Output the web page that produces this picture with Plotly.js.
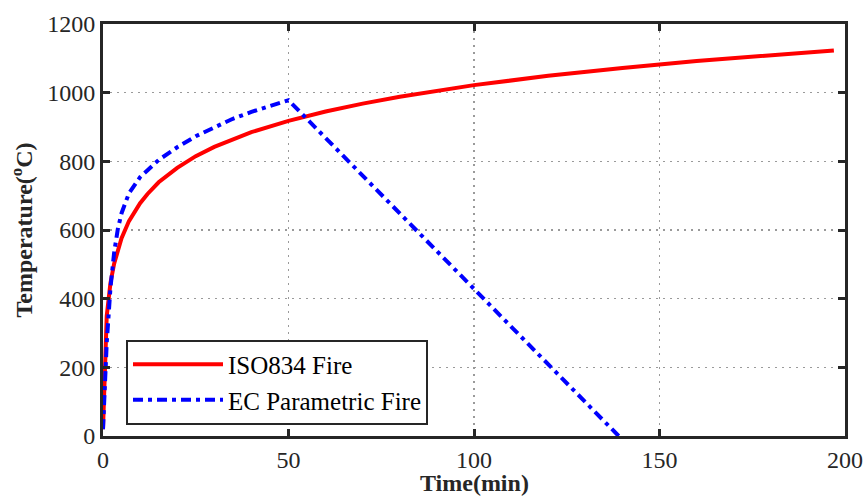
<!DOCTYPE html>
<html>
<head>
<meta charset="utf-8">
<script src="https://cdn.plot.ly/plotly-3.0.1.min.js"></script>
<style>
html,body{margin:0;padding:0;background:#fff;}
#chart{width:866px;height:504px;}
</style>
</head>
<body>
<div id="chart"></div>
<script>
// ISO834 standard fire curve
const isoTime = [0, 1, 2, 3, 5, 7, 10, 12, 15, 20, 25, 30, 40, 50, 60, 70, 80, 90, 100, 120, 140, 160, 180, 197];
const isoTemp = [20, 349, 445, 502, 576, 626, 678, 705, 739, 781, 815, 842, 885, 918, 945, 968, 988, 1006, 1022, 1049, 1072, 1092, 1110, 1123];

// EC parametric fire curve
const ecTime = [0, 1, 2, 3, 4, 5, 7, 10, 15, 20, 25, 30, 35, 40, 45, 50, 139];
const ecTemp = [20, 270, 430, 534, 603, 649, 707, 754, 804, 841, 873, 900, 924, 944, 962, 978, 0];

const seriesNames = ['ISO834 Fire', 'EC Parametric Fire'];
const xTicks = [0, 50, 100, 150, 200];
const yTicks = [0, 200, 400, 600, 800, 1000, 1200];
const xTitle = '<b>Time(min)</b>';
const yTitle = '<b>Temperature(<sup>o</sup>C)</b>';

const FONT = 'Liberation Serif';
const AX = '#262626';

const traces = [
  {x: isoTime, y: isoTemp, name: seriesNames[0], type: 'scatter', mode: 'lines',
   line: {color: '#ff0000', width: 4}},
  {x: ecTime, y: ecTemp, name: seriesNames[1], type: 'scatter', mode: 'lines',
   line: {color: '#0000ff', width: 4, dash: '10px,5px,4px,5px'}}
];

const axisCommon = {
  showline: true, linecolor: AX, linewidth: 3, mirror: 'ticks',
  ticks: 'inside', ticklen: 7, tickwidth: 3, tickcolor: AX,
  showgrid: true, gridcolor: '#9a9a9a', gridwidth: 1.5, griddash: '2px,5px',
  zeroline: false,
  tickfont: {family: FONT, size: 24, color: '#262626'}
};

const layout = {
  width: 866, height: 504,
  margin: {l: 103, r: 21, t: 24, b: 68},
  paper_bgcolor: '#fff', plot_bgcolor: '#fff',
  font: {family: FONT, size: 24, color: '#262626'},
  showlegend: true,
  xaxis: Object.assign({}, axisCommon, {
    range: [0, 200], tickvals: xTicks, ticktext: xTicks.map(String)
  }),
  yaxis: Object.assign({}, axisCommon, {
    range: [0, 1200], tickvals: yTicks, ticktext: yTicks.map(String),
    title: {text: yTitle, font: {family: FONT, size: 24, color: '#262626'}, standoff: 8}
  }),
  annotations: [{
    text: xTitle, xref: 'paper', yref: 'paper', x: 0.5, y: -0.114,
    xanchor: 'center', yanchor: 'middle', showarrow: false,
    font: {family: FONT, size: 24, color: '#262626'}
  }],
  legend: {
    x: 0.031, y: 0.131, xanchor: 'left', yanchor: 'middle',
    bgcolor: '#fff', bordercolor: AX, borderwidth: 2,
    font: {family: FONT, size: 25, color: '#000'},
    itemwidth: 90, tracegroupgap: 0
  }
};

Plotly.newPlot('chart', traces, layout, {displayModeBar: false, staticPlot: true});
</script>
</body>
</html>
